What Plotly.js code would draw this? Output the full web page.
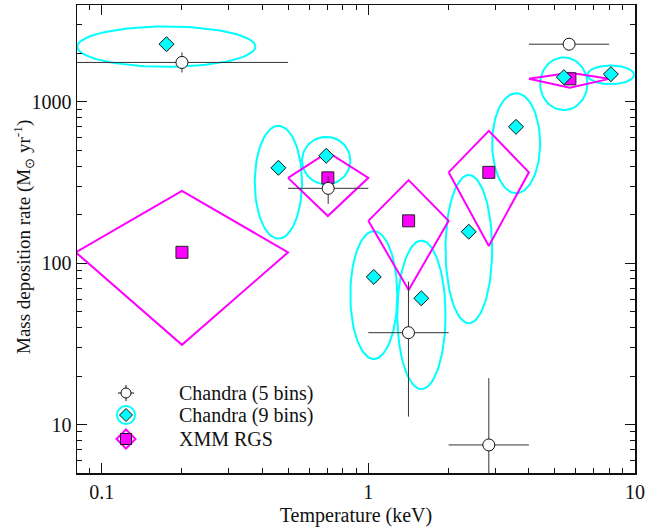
<!DOCTYPE html>
<html>
<head>
<meta charset="utf-8">
<script src="https://cdn.plot.ly/plotly-3.0.1.min.js"></script>
<style>html,body{margin:0;padding:0;background:#fff;}#chart{width:646px;height:529px;}</style>
</head>
<body>
<div id="chart"></div>
<script>
// ---------------- Data ----------------
// Chandra (5 bins): temperature (keV), bin edges, mass deposition rate and its bounds
var c5T    = [0.2, 0.707, 1.414, 2.83, 5.66];
var c5Tlo  = [0.08, 0.5, 1.0, 2.0, 4.0];
var c5Thi  = [0.5, 1.0, 2.0, 4.0, 8.0];
var c5M    = [1754, 291, 37.1, 7.48, 2276];
var c5Mlo  = [1520, 233, 11.2, 3.0, 2276];
var c5Mhi  = [2023, 348, 76.8, 19.4, 2276];

// Chandra (9 bins): diamonds with ellipse bounds
var c9T    = [0.175, 0.46, 0.695, 1.048, 1.58, 2.38, 3.58, 5.41, 8.12];
var c9Tlo  = [0.081, 0.375, 0.564, 0.856, 1.284, 1.947, 2.913, 4.408, 6.63];
var c9Thi  = [0.377, 0.564, 0.856, 1.284, 1.947, 2.913, 4.408, 6.63, 9.92];
var c9M    = [2276, 390, 463, 82.2, 60.6, 156.7, 700, 1422, 1484];
var c9Mlo  = [1648, 142, 308, 25.5, 16.6, 42.5, 271, 889, 1287];
var c9Mhi  = [2929, 710, 607, 158, 138, 352, 1132, 1884, 1680];

// XMM RGS: squares with rhombus bounds
var rgsT   = [0.2, 0.705, 1.416, 2.83, 5.7];
var rgsTlo = [0.08, 0.5, 1.0, 2.0, 4.0];
var rgsThi = [0.5, 1.0, 2.0, 4.0, 8.0];
var rgsM   = [116.8, 338, 183, 365.6, 1388];
var rgsMlo = [31.2, 196, 68.2, 128, 1221];
var rgsMhi = [281, 488, 327, 661, 1512];

// Tick labels
var xTickVals = [0.1, 1, 10];
var xTickText = ['0.1', '1', '10'];
var yTickVals = [10, 100, 1000];
var yTickText = ['10', '100', '1000'];

var legendNames = ['Chandra (5 bins)', 'Chandra (9 bins)', 'XMM RGS'];
var xTitle = 'Temperature (keV)';
var yTitle = 'Mass deposition rate (M<sub>⊙</sub> yr<sup>-1</sup>)';

// ---------------- Build traces ----------------
var FONT = 'Liberation Serif';
var CYAN = '#00ffff', MAGENTA = '#ff00ff';
var log10 = function(v){ return Math.log(v)/Math.LN10; };
var traces = [];

// ellipses (in log-log space)
var ex = [], ey = [];
for (var i = 0; i < c9T.length; i++) {
  var cx = (log10(c9Tlo[i]) + log10(c9Thi[i])) / 2, rx = (log10(c9Thi[i]) - log10(c9Tlo[i])) / 2;
  var cy = (log10(c9Mlo[i]) + log10(c9Mhi[i])) / 2, ry = (log10(c9Mhi[i]) - log10(c9Mlo[i])) / 2;
  for (var k = 0; k <= 90; k++) {
    var t = 2 * Math.PI * k / 90;
    ex.push(Math.pow(10, cx + rx * Math.cos(t)));
    ey.push(Math.pow(10, cy + ry * Math.sin(t)));
  }
  ex.push(null); ey.push(null);
}
traces.push({x: ex, y: ey, mode: 'lines', line: {color: CYAN, width: 2}, hoverinfo: 'skip', showlegend: false});

// rhombi
var rx2 = [], ry2 = [];
for (var j = 0; j < rgsT.length; j++) {
  rx2.push(rgsTlo[j], rgsT[j], rgsThi[j], rgsT[j], rgsTlo[j], null);
  ry2.push(rgsM[j], rgsMhi[j], rgsM[j], rgsMlo[j], rgsM[j], null);
}
traces.push({x: rx2, y: ry2, mode: 'lines', line: {color: MAGENTA, width: 2}, hoverinfo: 'skip', showlegend: false});

// RGS squares
traces.push({x: rgsT, y: rgsM, mode: 'markers', name: legendNames[2], showlegend: false,
  marker: {symbol: 'square', size: 12, color: MAGENTA, line: {color: '#222', width: 1}}});

// Chandra 9 bins diamonds
traces.push({x: c9T, y: c9M, mode: 'markers', name: legendNames[1], showlegend: false,
  marker: {symbol: 'diamond', size: 11.5, color: CYAN, line: {color: '#111', width: 1}}});

// Chandra 5 bins circles with error bars
traces.push({x: c5T, y: c5M, mode: 'markers', name: legendNames[0], showlegend: false,
  marker: {symbol: 'circle', size: 12, color: '#fff', line: {color: '#111', width: 1}},
  error_x: {type: 'data', symmetric: false,
    array: c5T.map(function(v, i){ return c5Thi[i] - v; }),
    arrayminus: c5T.map(function(v, i){ return v - c5Tlo[i]; }),
    color: '#333', thickness: 1, width: 0},
  error_y: {type: 'data', symmetric: false,
    array: c5M.map(function(v, i){ return c5Mhi[i] - v; }),
    arrayminus: c5M.map(function(v, i){ return v - c5Mlo[i]; }),
    color: '#333', thickness: 1, width: 0}
});

// ---------------- Layout ----------------
var W = 646, H = 529, ML = 77, MR = 11, MT = 5, MB = 56;
var PW = W - ML - MR, PH = H - MT - MB;
function px(x){ return (x - ML) / PW; }
function py(y){ return (H - MB - y) / PH; }

function minorVals(lo, hi){
  var out = [];
  for (var d = lo; d <= hi; d++) for (var m = 2; m <= 9; m++) out.push(m * Math.pow(10, d));
  return out;
}

var shapes = [], annotations = [];
// Legend (drawn as layout decoration in paper coords)
var legX = 126, legRows = [393, 415, 439], textX = 177;
shapes.push({type: 'line', xref: 'paper', yref: 'paper', x0: px(legX - 8), x1: px(legX + 8), y0: py(legRows[0]), y1: py(legRows[0]), line: {color: '#111', width: 1}});
shapes.push({type: 'line', xref: 'paper', yref: 'paper', x0: px(legX), x1: px(legX), y0: py(legRows[0] - 8), y1: py(legRows[0] + 8), line: {color: '#111', width: 1}});
shapes.push({type: 'circle', xref: 'paper', yref: 'paper', x0: px(legX - 5), x1: px(legX + 5), y0: py(legRows[0] + 5), y1: py(legRows[0] - 5), fillcolor: '#fff', line: {color: '#111', width: 1}});
shapes.push({type: 'circle', xref: 'paper', yref: 'paper', x0: px(legX - 9), x1: px(legX + 9), y0: py(legRows[1] + 9), y1: py(legRows[1] - 9), line: {color: CYAN, width: 2}});
function diamondPath(cx, cy, r){
  return 'M' + px(cx - r) + ',' + py(cy) + ' L' + px(cx) + ',' + py(cy - r) + ' L' + px(cx + r) + ',' + py(cy) + ' L' + px(cx) + ',' + py(cy + r) + ' Z';
}
shapes.push({type: 'path', xref: 'paper', yref: 'paper', path: diamondPath(legX, legRows[1], 6.5), fillcolor: CYAN, line: {color: '#111', width: 1}});
shapes.push({type: 'path', xref: 'paper', yref: 'paper', path: diamondPath(legX, legRows[2], 9.5), line: {color: MAGENTA, width: 2}});
shapes.push({type: 'rect', xref: 'paper', yref: 'paper', x0: px(legX - 5.5), x1: px(legX + 5.5), y0: py(legRows[2] + 5.5), y1: py(legRows[2] - 5.5), fillcolor: MAGENTA, line: {color: '#111', width: 1}});

for (var r = 0; r < 3; r++) {
  annotations.push({xref: 'paper', yref: 'paper', x: px(textX), y: py(legRows[r]), xanchor: 'left', yanchor: 'middle',
    text: legendNames[r], showarrow: false, font: {family: FONT, size: 20, color: '#111'}});
}
// y-axis title placed precisely
annotations.push({xref: 'paper', yref: 'paper', x: px(23), y: py(237), xanchor: 'center', yanchor: 'middle',
  textangle: -90, text: yTitle, showarrow: false, font: {family: FONT, size: 19, color: '#111'}});

var axisCommon = {
  type: 'log', showgrid: false, zeroline: false, showline: true, linecolor: '#111', linewidth: 1.5,
  mirror: 'allticks', ticks: 'inside', ticklen: 10, tickwidth: 1, tickcolor: '#111',
  tickmode: 'array', tickfont: {family: FONT, size: 20, color: '#111'}
};

var layout = {
  width: W, height: H,
  margin: {l: ML, r: MR, t: MT, b: MB, pad: 0},
  paper_bgcolor: '#fff', plot_bgcolor: '#fff',
  showlegend: false,
  font: {family: FONT, size: 20, color: '#111'},
  xaxis: Object.assign({}, axisCommon, {
    range: [log10(0.0808), 1.0], tickvals: xTickVals, ticktext: xTickText,
    minor: {tickmode: 'array', tickvals: minorVals(-2, 0), ticks: 'inside', ticklen: 5, tickwidth: 1, tickcolor: '#111', showgrid: false},
    title: {text: xTitle, font: {family: FONT, size: 20, color: '#111'}, standoff: 6},
    automargin: false
  }),
  yaxis: Object.assign({}, axisCommon, {
    range: [0.7, 3.6], tickvals: yTickVals, ticktext: yTickText,
    minor: {tickmode: 'array', tickvals: minorVals(0, 3), ticks: 'inside', ticklen: 5, tickwidth: 1, tickcolor: '#111', showgrid: false},
    automargin: false
  }),
  shapes: shapes,
  annotations: annotations
};

Plotly.newPlot('chart', traces, layout, {staticPlot: true, displayModeBar: false});
</script>
</body>
</html>
